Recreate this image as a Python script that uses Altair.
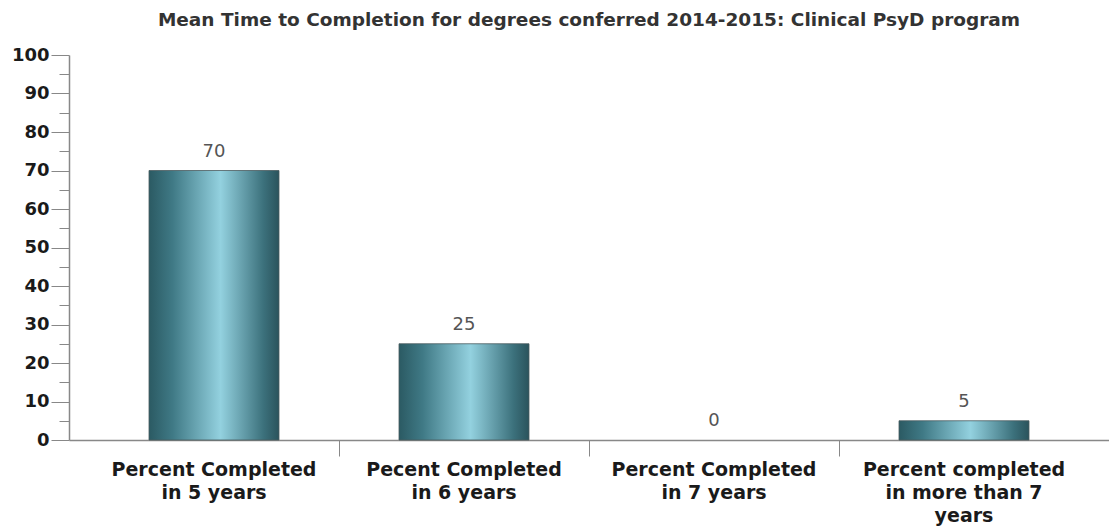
import altair as alt
import pandas as pd

categories = [
    "Percent Completed\nin 5 years",
    "Pecent Completed\nin 6 years",
    "Percent Completed\nin 7 years",
    "Percent completed\nin more than 7\nyears",
]
values = [70, 25, 0, 5]
title_text = "Mean Time to Completion for degrees conferred 2014-2015: Clinical PsyD program"

df = pd.DataFrame({"cat": categories, "val": values})

FONT = "DejaVu Sans"

x_enc = alt.X(
    "cat:N",
    sort=categories,
    title=None,
    scale=alt.Scale(paddingInner=0, paddingOuter=0.08),
    axis=alt.Axis(
        labelAngle=0,
        labelExpr="split(datum.label, '\\n')",
        labelFont=FONT,
        labelFontSize=19,
        labelFontWeight="bold",
        labelColor="#1a1a1a",
        labelLineHeight=23,
        labelPadding=4,
        labelBaseline="top",
        labelLimit=400,
        bandPosition=0,
        tickSize=16,
        tickColor="#888888",
        tickOpacity={"condition": {"test": "datum.index === 0", "value": 0}, "value": 1},
        domainColor="#888888",
        domainWidth=1.5,
        labelOverlap=False,
        grid=False,
    ),
)

y_enc = alt.Y(
    "val:Q",
    title=None,
    scale=alt.Scale(domain=[0, 100], nice=False),
    axis=alt.Axis(
        values=list(range(0, 101, 5)),
        labelExpr="datum.value % 10 === 0 ? datum.label : ''",
        tickSize={"condition": {"test": "datum.value % 10 === 0", "value": 18}, "value": 10},
        labelFont=FONT,
        labelFontSize=18,
        labelFontWeight="bold",
        labelColor="#1a1a1a",
        labelPadding=2,
        labelOverlap=False,
        tickColor="#888888",
        domainColor="#888888",
        domainWidth=1.5,
        grid=False,
    ),
)

gradient = alt.Gradient(
    gradient="linear",
    stops=[
        alt.GradientStop(color="#2b5a63", offset=0),
        alt.GradientStop(color="#3f7985", offset=0.18),
        alt.GradientStop(color="#93d1df", offset=0.55),
        alt.GradientStop(color="#3c717c", offset=0.88),
        alt.GradientStop(color="#2a535c", offset=1),
    ],
    x1=0, x2=1, y1=0, y2=0,
)

bars = alt.Chart(df).mark_bar(
    width=130, color=gradient, strokeWidth=0.8
).encode(
    x=x_enc,
    y=y_enc,
    stroke=alt.condition(alt.datum.val > 0, alt.value("#4a5a5e"), alt.value("transparent")),
)

labels = alt.Chart(df).mark_text(
    baseline="bottom", dy=-10, font=FONT, fontSize=18, color="#555555"
).encode(x=x_enc, y=y_enc, text=alt.Text("val:Q"))

chart = (
    alt.layer(bars, labels)
    .properties(
        width=1040,
        height=385,
        title=alt.Title(
            title_text, font=FONT, fontSize=18.5, fontWeight="bold", color="#333333",
            anchor="middle", offset=17,
        ),
        autosize=alt.AutoSizeParams(type="none"),
        padding={"left": 61, "top": 47, "right": 0, "bottom": 95},
    )
    .configure(
        background="white",
        view=alt.ViewConfig(stroke="transparent", strokeWidth=0),
        axis=alt.AxisConfig(grid=False),
    )
)

chart.save("out.html", embed_options={"renderer": "svg", "actions": False})
